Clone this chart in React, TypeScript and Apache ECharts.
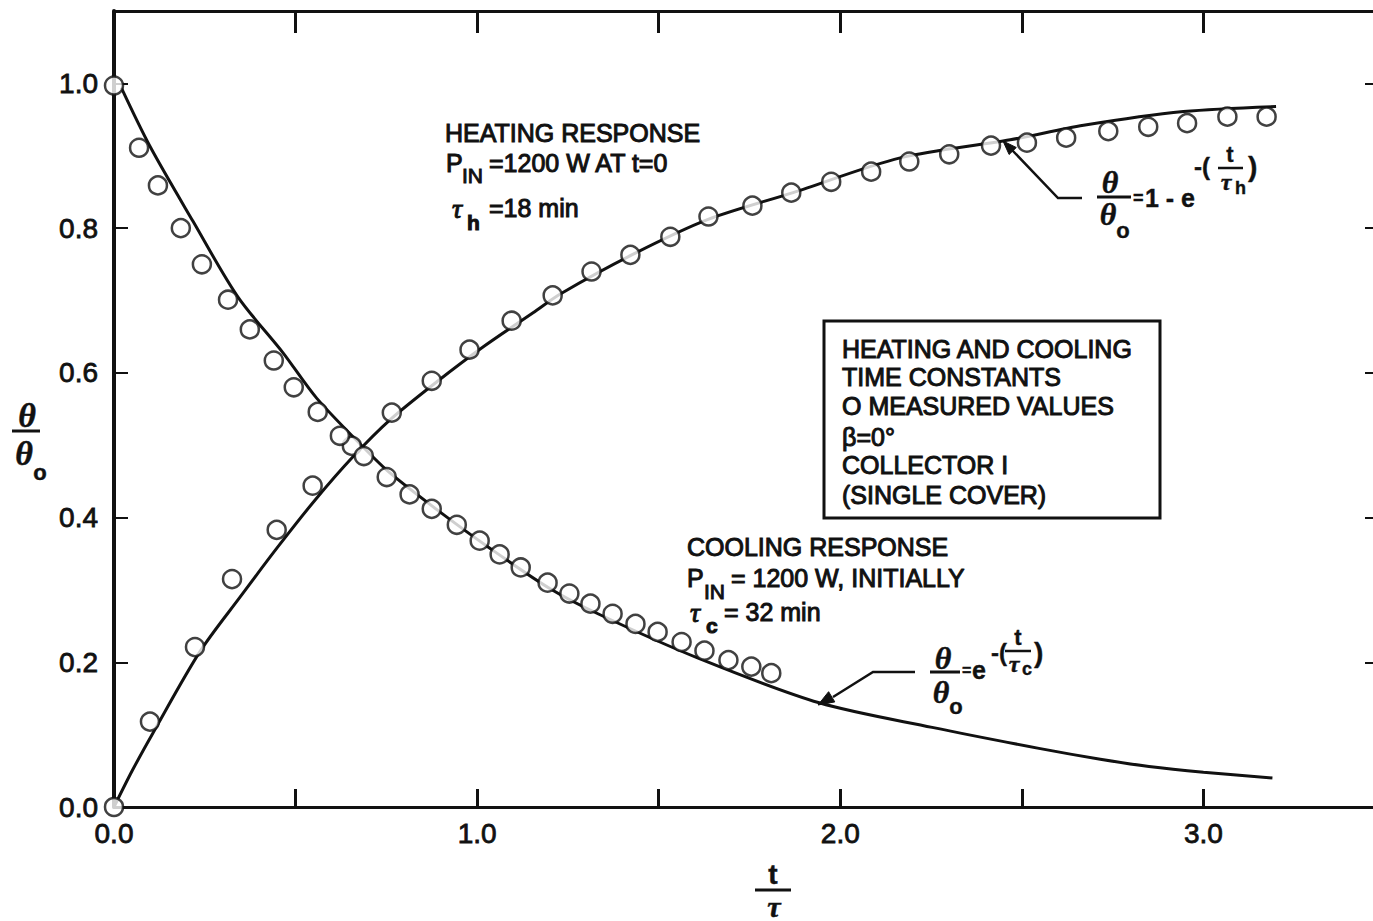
import React, { useEffect, useRef } from "react";
import * as echarts from "echarts";

// Measured heating response (t/τ, θ/θ0)
const heatX = [0, 0.099, 0.223, 0.325, 0.448, 0.547, 0.655, 0.765, 0.875, 0.979, 1.095, 1.208, 1.315, 1.422, 1.532, 1.637, 1.758, 1.865, 1.975, 2.085, 2.19, 2.3, 2.415, 2.514, 2.622, 2.738, 2.848, 2.955, 3.066, 3.174];
const heatY = [0, 0.118, 0.221, 0.315, 0.383, 0.444, 0.499, 0.545, 0.589, 0.632, 0.672, 0.707, 0.74, 0.763, 0.788, 0.816, 0.831, 0.849, 0.864, 0.878, 0.892, 0.902, 0.914, 0.918, 0.925, 0.934, 0.94, 0.945, 0.954, 0.954];

// Measured cooling response
const coolX = [0, 0.069, 0.121, 0.184, 0.242, 0.314, 0.374, 0.44, 0.495, 0.561, 0.622, 0.688, 0.751, 0.814, 0.875, 0.944, 1.007, 1.062, 1.12, 1.194, 1.254, 1.312, 1.373, 1.436, 1.497, 1.563, 1.626, 1.692, 1.755, 1.81];
const coolY = [0.997, 0.911, 0.859, 0.8, 0.75, 0.701, 0.66, 0.617, 0.58, 0.546, 0.513, 0.485, 0.456, 0.432, 0.412, 0.39, 0.368, 0.349, 0.331, 0.31, 0.295, 0.281, 0.267, 0.253, 0.242, 0.228, 0.216, 0.203, 0.194, 0.185];

// Fitted curve θ/θ0 = 1 - e^-(t/τh)
const heatCurveX = [0, 0.05, 0.107, 0.237, 0.347, 0.449, 0.555, 0.658, 0.76, 0.89, 1.017, 1.154, 1.229, 1.43, 1.636, 1.87, 2.165, 2.468, 2.67, 2.945, 3.2];
const heatCurveY = [0, 0.05, 0.102, 0.215, 0.29, 0.358, 0.425, 0.484, 0.535, 0.588, 0.636, 0.683, 0.709, 0.764, 0.812, 0.849, 0.897, 0.922, 0.942, 0.961, 0.968];

// Fitted curve θ/θ0 = e^-(t/τc)
const coolCurveX = [0.02, 0.099, 0.218, 0.341, 0.465, 0.558, 0.685, 0.759, 0.889, 1.034, 1.2, 1.337, 1.612, 1.942, 2.253, 2.547, 2.716, 2.85, 3.0, 3.19];
const coolCurveY = [0.994, 0.913, 0.809, 0.705, 0.628, 0.565, 0.498, 0.462, 0.411, 0.358, 0.302, 0.266, 0.205, 0.144, 0.11, 0.081, 0.066, 0.056, 0.048, 0.04];

const xTickLabels = ["0.0", "1.0", "2.0", "3.0"];
const yTickLabels = ["0.0", "0.2", "0.4", "0.6", "0.8", "1.0"];

const INK = "#111";
const SANS = '"Liberation Sans", Arial, sans-serif';
const SERIF = '"Liberation Serif", "DejaVu Serif", serif';

function pairs(xs: number[], ys: number[]) {
  return xs.map((x, i) => [x, ys[i]]);
}

function txt(x: number, y: number, text: string, font: string, align = "left", heavy = 1) {
  return {
    type: "text",
    x,
    y,
    z: 20,
    style: {
      text,
      font,
      fill: INK,
      stroke: INK,
      lineWidth: heavy,
      align,
      verticalAlign: "middle",
      textAlign: align,
      textVerticalAlign: "middle",
    },
  };
}

function seg(x1: number, y1: number, x2: number, y2: number, w = 3) {
  return {
    type: "line",
    z: 20,
    shape: { x1, y1, x2, y2 },
    style: { stroke: INK, lineWidth: w },
  };
}

function poly(points: number[][], w = 2.5) {
  return {
    type: "polyline",
    z: 20,
    shape: { points },
    style: { stroke: INK, lineWidth: w, fill: "none" },
  };
}

function arrowHead(points: number[][]) {
  return {
    type: "polygon",
    z: 20,
    shape: { points },
    style: { fill: INK, stroke: INK, lineWidth: 1 },
  };
}

export default function App() {
  const ref = useRef<HTMLDivElement>(null);

  useEffect(() => {
    if (!ref.current) return;
    const chart = echarts.init(ref.current, null, { renderer: "svg" });

    const f25 = `25px ${SANS}`;
    const f21 = `21px ${SANS}`;
    const theta = `italic bold 32px ${SERIF}`;
    const tau = `italic 28px ${SERIF}`;

    const labelFmt = (list: string[]) => (v: number) => {
      const s = v.toFixed(1);
      return list.includes(s) && Math.abs(v - Number(s)) < 1e-6 ? s : "";
    };

    const tickLabel = {
      color: INK,
      fontFamily: SANS,
      fontSize: 28,
      textBorderColor: INK,
      textBorderWidth: 0.8,
    };

    const option: any = {
      animation: false,
      backgroundColor: "#fff",
      grid: {
        left: 114,
        right: -12,
        top: 11,
        bottom: 114,
        containLabel: false,
        outerBoundsMode: "none",
      },
      xAxis: [
        {
          type: "value",
          min: 0,
          max: 3.5,
          interval: 0.5,
          position: "bottom",
          axisLine: { show: true, onZero: false, lineStyle: { color: INK, width: 3 } },
          axisTick: { show: true, inside: true, length: 18, lineStyle: { color: INK, width: 3 } },
          axisLabel: { ...tickLabel, formatter: labelFmt(xTickLabels), margin: 12 },
          splitLine: { show: false },
        },
        {
          type: "value",
          min: 0,
          max: 3.5,
          interval: 0.5,
          position: "top",
          axisLine: { show: true, onZero: false, lineStyle: { color: INK, width: 3 } },
          axisTick: { show: true, inside: true, length: 22, lineStyle: { color: INK, width: 3 } },
          axisLabel: { show: false },
          splitLine: { show: false },
        },
      ],
      yAxis: [
        {
          type: "value",
          min: 0,
          max: 1.1,
          interval: 0.2,
          position: "left",
          axisLine: { show: true, onZero: false, lineStyle: { color: INK, width: 4 } },
          axisTick: { show: true, inside: true, length: 14, lineStyle: { color: INK, width: 2 } },
          axisLabel: { ...tickLabel, formatter: labelFmt(yTickLabels), showMaxLabel: false, margin: 16 },
          splitLine: { show: false },
        },
        {
          type: "value",
          min: 0,
          max: 1.1,
          interval: 0.2,
          position: "right",
          axisLine: { show: true, onZero: false, lineStyle: { color: INK, width: 3 } },
          axisTick: { show: true, inside: true, length: 20, lineStyle: { color: INK, width: 2 } },
          axisLabel: { show: false },
          splitLine: { show: false },
        },
      ],
      series: [
        {
          name: "heating fit",
          type: "line",
          data: pairs(heatCurveX, heatCurveY),
          smooth: 0.3,
          showSymbol: false,
          symbol: "none",
          lineStyle: { color: INK, width: 3 },
          z: 2,
        },
        {
          name: "cooling fit",
          type: "line",
          data: pairs(coolCurveX, coolCurveY),
          smooth: 0.3,
          showSymbol: false,
          symbol: "none",
          lineStyle: { color: INK, width: 3 },
          z: 2,
        },
        {
          name: "heating measured",
          type: "scatter",
          data: pairs(heatX, heatY),
          symbol: "circle",
          symbolSize: 18,
          itemStyle: { color: "#fff", borderColor: INK, borderWidth: 2.5 },
          z: 5,
        },
        {
          name: "cooling measured",
          type: "scatter",
          data: pairs(coolX, coolY),
          symbol: "circle",
          symbolSize: 18,
          itemStyle: { color: "#fff", borderColor: INK, borderWidth: 2.5 },
          z: 5,
        },
      ],
      graphic: [
        // axis titles
        txt(27, 415, "θ", `italic bold 34px ${SERIF}`, "center", 0.5),
        seg(12, 431, 40, 431, 3),
        txt(24, 453, "θ", `italic bold 34px ${SERIF}`, "center", 0.5),
        txt(40, 472, "o", `bold 22px ${SANS}`, "center", 0.5),
        txt(773, 874, "t", `bold 28px ${SANS}`, "center", 0.5),
        seg(755, 890, 791, 890, 3),
        txt(774, 906, "τ", `italic bold 30px ${SERIF}`, "center", 0.5),

        // heating response note
        txt(445, 133, "HEATING RESPONSE", f25),
        txt(446, 163, "P", f25),
        txt(462, 175, "IN", f21),
        txt(489, 163, "=1200 W AT t=0", f25),
        txt(452, 208, "τ", tau),
        txt(467, 222, "h", `bold 21px ${SANS}`),
        txt(489, 208, "=18 min", f25),

        // legend box
        {
          type: "rect",
          z: 20,
          shape: { x: 824, y: 321, width: 336, height: 197 },
          style: { stroke: INK, lineWidth: 3, fill: "none" },
        },
        txt(842, 349, "HEATING AND COOLING", f25),
        txt(842, 377, "TIME CONSTANTS", f25),
        txt(842, 406, "O MEASURED VALUES", f25),
        txt(842, 437, "β=0°", f25),
        txt(842, 465, "COLLECTOR I", f25),
        txt(842, 495, "(SINGLE COVER)", f25),

        // cooling response note
        txt(687, 547, "COOLING RESPONSE", f25),
        txt(687, 578, "P", f25),
        txt(704, 591, "IN", f21),
        txt(731, 578, "= 1200 W, INITIALLY", f25),
        txt(690, 612, "τ", tau),
        txt(706, 625, "c", `bold 21px ${SANS}`),
        txt(724, 612, "= 32 min", f25),

        // heating fit formula and leader
        txt(1110, 182, "θ", theta, "center", 0.4),
        seg(1097, 197, 1131, 197, 3),
        txt(1108, 214, "θ", theta, "center", 0.4),
        txt(1123, 230, "o", `bold 22px ${SANS}`, "center", 0.4),
        txt(1133, 198, "=", `bold 18px ${SANS}`, "left", 0.4),
        txt(1145, 198, "1 - e", `bold 25px ${SANS}`, "left", 0.4),
        txt(1194, 166, "-(", `bold 24px ${SANS}`, "left", 0.4),
        txt(1230, 154, "t", `bold 22px ${SANS}`, "center", 0.4),
        seg(1218, 168, 1243, 168, 2.5),
        txt(1226, 182, "τ", `italic bold 24px ${SERIF}`, "center", 0.4),
        txt(1235, 188, "h", `bold 18px ${SANS}`, "left", 0.4),
        txt(1248, 166, ")", `bold 28px ${SANS}`, "left", 0.4),
        poly([[1082, 198], [1058, 198], [1012, 150]]),
        arrowHead([[1003, 141], [1016.3, 147.5], [1009.1, 154.5]]),

        // cooling fit formula and leader
        txt(943, 658, "θ", theta, "center", 0.4),
        seg(930, 672, 960, 672, 3),
        txt(941, 692, "θ", theta, "center", 0.4),
        txt(956, 706, "o", `bold 22px ${SANS}`, "center", 0.4),
        txt(962, 670, "=", `bold 16px ${SANS}`, "left", 0.4),
        txt(972, 670, "e", `bold 25px ${SANS}`, "left", 0.4),
        txt(991, 652, "-(", `bold 24px ${SANS}`, "left", 0.4),
        txt(1018, 637, "t", `bold 22px ${SANS}`, "center", 0.4),
        seg(1005, 651, 1031, 651, 2.5),
        txt(1014, 664, "τ", `italic bold 24px ${SERIF}`, "center", 0.4),
        txt(1022, 669, "c", `bold 18px ${SANS}`, "left", 0.4),
        txt(1034, 652, ")", `bold 28px ${SANS}`, "left", 0.4),
        poly([[915, 672], [873, 672], [833, 697]]),
        arrowHead([[818, 705], [834.8, 701.9], [828.6, 691.7]]),
      ],
    };

    chart.setOption(option);
    return () => chart.dispose();
  }, []);

  return (
    <div
      ref={ref}
      style={{ position: "absolute", left: 0, top: 0, width: 1373, height: 921, background: "#fff" }}
    />
  );
}
